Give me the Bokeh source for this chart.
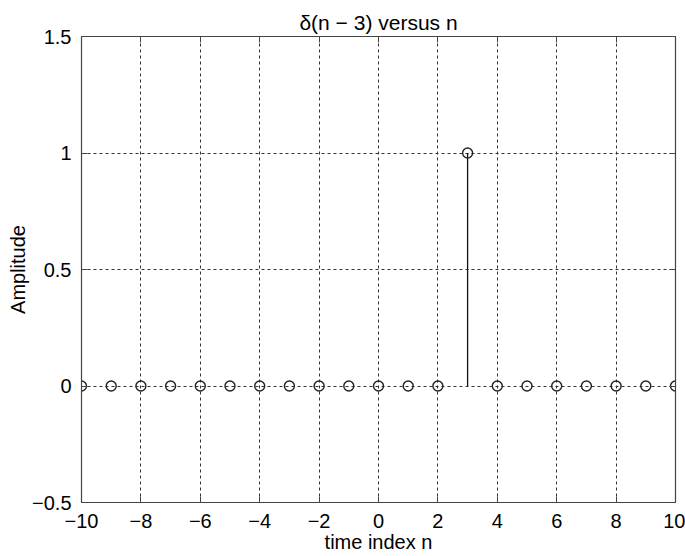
from bokeh.plotting import figure
from bokeh.models import FixedTicker, LinearAxis, Range1d, Title
from bokeh.embed import file_html
from bokeh.resources import INLINE

# data
n_vals = [-10, -9, -8, -7, -6, -5, -4, -3, -2, -1, 0, 1, 2, 3, 4, 5, 6, 7, 8, 9, 10]
amp_vals = [0, 0, 0, 0, 0, 0, 0, 0, 0, 0, 0, 0, 0, 1, 0, 0, 0, 0, 0, 0, 0]
x_ticks = [-10, -8, -6, -4, -2, 0, 2, 4, 6, 8, 10]
x_tick_labels = ["\u221210", "\u22128", "\u22126", "\u22124", "\u22122", "0", "2", "4", "6", "8", "10"]
y_ticks = [-0.5, 0, 0.5, 1, 1.5]
y_tick_labels = ["\u22120.5", "0", "0.5", "1", "1.5"]
title_text = "\u03b4(n \u2212 3) versus n"
x_label = "time index n"
y_label = "Amplitude"

FONT = "Liberation Sans"
FS = "20px"

p = figure(width=685, height=556, output_backend="svg", toolbar_location=None,
           x_range=Range1d(-10, 10), y_range=Range1d(-0.5, 1.5),
           min_border_left=81, min_border_right=10, min_border_top=36, min_border_bottom=54,
           background_fill_color="white", border_fill_color="white")
p.outline_line_color = None

p.title = Title(text=title_text, align="center", text_font=FONT, text_font_size="21px",
                text_font_style="normal", text_color="black", standoff=6)

def style_axis(ax, ticks, overrides, show_labels=True):
    ax.ticker = FixedTicker(ticks=ticks)
    ax.major_label_overrides = {t: l for t, l in zip(ticks, overrides)}
    ax.major_tick_in = 6
    ax.major_tick_out = 0
    ax.minor_tick_in = 0
    ax.minor_tick_out = 0
    ax.axis_line_color = "#444444"
    ax.axis_line_width = 1.2
    ax.major_tick_line_color = "#444444"
    ax.major_label_text_font = FONT
    ax.major_label_text_font_size = FS if show_labels else "0px"
    ax.major_label_text_color = "black"
    ax.axis_label_text_font = FONT
    ax.axis_label_text_font_size = FS
    ax.axis_label_text_font_style = "normal"
    ax.axis_label_text_color = "black"

xa = p.xaxis[0]
style_axis(xa, x_ticks, x_tick_labels)
xa.axis_label = x_label
xa.major_label_standoff = 11
xa.axis_label_standoff = 0

ya = p.yaxis[0]
style_axis(ya, y_ticks, y_tick_labels)
ya.axis_label = y_label
ya.major_label_standoff = 10
ya.axis_label_standoff = 0

top_ax = LinearAxis()
style_axis(top_ax, x_ticks, ["" for _ in x_ticks], show_labels=False)
top_ax.major_label_standoff = 0
p.add_layout(top_ax, "above")
right_ax = LinearAxis()
style_axis(right_ax, y_ticks, ["" for _ in y_ticks], show_labels=False)
right_ax.major_label_standoff = 0
p.add_layout(right_ax, "right")

for g in (p.xgrid[0], p.ygrid[0]):
    g.grid_line_color = "#333333"
    g.grid_line_dash = "3 3"
    g.grid_line_width = 1
p.xgrid[0].ticker = FixedTicker(ticks=x_ticks)
p.ygrid[0].ticker = FixedTicker(ticks=y_ticks)

# stems
p.segment(x0=n_vals, y0=[0] * len(n_vals), x1=n_vals, y1=amp_vals,
          line_color="#111111", line_width=1.3)
# markers
p.scatter(x=n_vals, y=amp_vals, marker="circle", size=10, fill_alpha=0,
          line_color="#222222", line_width=1.4)

open("out.html", "w").write(file_html(p, INLINE))
